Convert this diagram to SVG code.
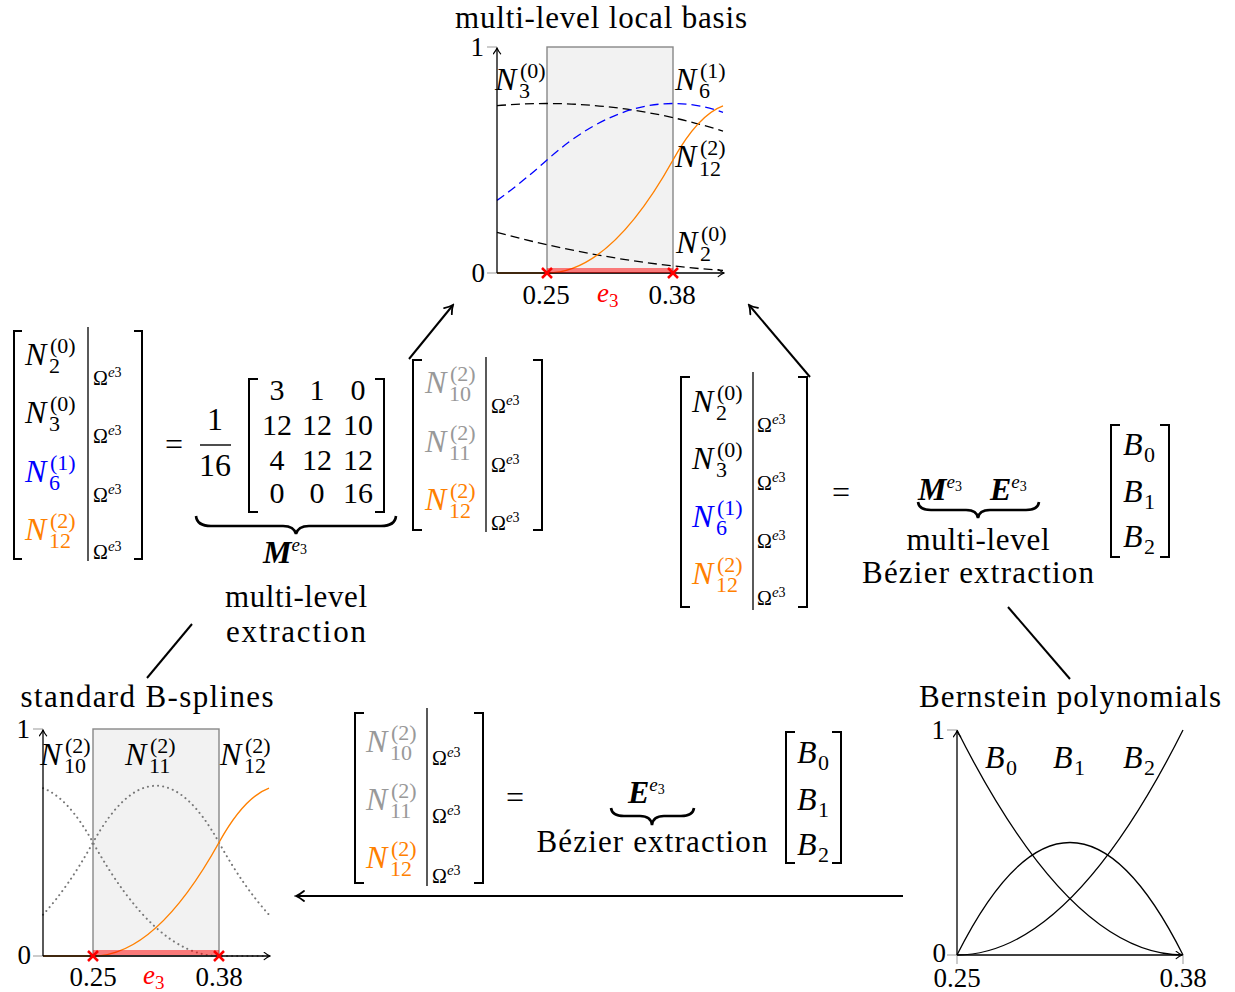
<svg xmlns="http://www.w3.org/2000/svg" width="1235" height="992" viewBox="0 0 1235 992">
<style>
text{font-family:"Liberation Serif","DejaVu Serif",serif;fill:#000}
.tt{font-size:31px}
.tk{font-size:27px}
.m{font-size:32px}
.i{font-style:italic}
.s{font-size:22px;font-style:normal}
.bi{font-style:italic;font-weight:bold;font-size:32px}
.o{font-size:20px}
.oe{font-size:15px;font-style:italic}
.o3{font-size:14px}
.gray{fill:#999}
.blue{fill:#0000ff}
.orange{fill:#ff8000}
.red{fill:#ff0000}
.br{fill:none;stroke:#000;stroke-width:2}
.bar{stroke:#000;stroke-width:1.3}
.ax{fill:none;stroke:#000;stroke-width:1.3}
.tick{stroke:#999;stroke-width:1}
.shade{fill:#f2f2f2;stroke:#888;stroke-width:1.4}
.dash{fill:none;stroke:#000;stroke-width:1.3;stroke-dasharray:9 5}
.dashb{fill:none;stroke:#0000ff;stroke-width:1.3;stroke-dasharray:9 5}
.org{fill:none;stroke:#ff8000;stroke-width:1.4}
.dot{fill:none;stroke:#777;stroke-width:2;stroke-dasharray:0.1 5;stroke-linecap:round}
.rbar{stroke:#ff0000;stroke-opacity:0.5;stroke-width:5}
.x{stroke:#ff0000;stroke-width:2.5}
.brace{fill:none;stroke:#000;stroke-width:2.6}
.con{fill:none;stroke:#000;stroke-width:2}
.crv{fill:none;stroke:#000;stroke-width:1.3}
</style>
<defs>
<marker id="arr" viewBox="-9 -6 11 12" refX="0" refY="0" markerWidth="11" markerHeight="12" orient="auto" markerUnits="userSpaceOnUse">
<path d="M -8,-5 C -5,-2.5 -1.5,-0.6 0,0 C -1.5,0.6 -5,2.5 -8,5" fill="none" stroke="#000" stroke-width="1.8" stroke-linecap="round"/>
</marker>
<marker id="arrs" viewBox="-9 -6 11 12" refX="0" refY="0" markerWidth="8" markerHeight="9" orient="auto" markerUnits="userSpaceOnUse">
<path d="M -8,-5 C -5,-2.5 -1.5,-0.6 0,0 C -1.5,0.6 -5,2.5 -8,5" fill="none" stroke="#000" stroke-width="1.6" stroke-linecap="round"/>
</marker>
</defs>
<rect width="1235" height="992" fill="#fff"/>

<!-- Top plot: multi-level local basis -->
<g id="plot-multilevel">
<text class="tt" x="601" y="28" text-anchor="middle" textLength="292">multi-level local basis</text>
<rect class="shade" x="547" y="47" width="126" height="226"/>
<path class="dash" d="M497,105.7 Q610,95.7 723,131.1"/>
<path class="dashb" d="M497,200.4 Q522,182.4 547,160 Q635,81.1 723,112.4"/>
<path class="dash" d="M497,232.4 Q610,262.8 723,270.4"/>
<path class="org" d="M497,273 L547,273 Q610,273 673,160 Q698,115.1 723,105.9"/>
<line class="tick" x1="487" y1="47" x2="497" y2="47"/>
<line class="tick" x1="487" y1="273" x2="497" y2="273"/>
<line class="ax" x1="497" y1="273" x2="497" y2="48" marker-end="url(#arrs)"/>
<line class="ax" x1="497" y1="273" x2="724" y2="273" marker-end="url(#arrs)"/>
<line class="rbar" x1="547" y1="270.5" x2="673" y2="270.5"/>
<path class="x" d="M542,268 L552,278 M552,268 L542,278 M668,268 L678,278 M678,268 L668,278"/>
<text class="tk" x="484" y="56" text-anchor="end">1</text>
<text class="tk" x="485" y="282" text-anchor="end">0</text>
<text class="tk" x="546" y="304" text-anchor="middle">0.25</text>
<text class="tk red" x="597" y="302"><tspan class="i">e</tspan><tspan font-size="19" dy="5">3</tspan></text>
<text class="tk" x="672" y="304" text-anchor="middle">0.38</text>
<text class="m" x="495" y="90"><tspan class="i">N</tspan><tspan class="s" x="520" y="78">(0)</tspan><tspan class="s" x="519" y="98">3</tspan></text>
<text class="m" x="675" y="90"><tspan class="i">N</tspan><tspan class="s" x="700" y="78">(1)</tspan><tspan class="s" x="699" y="98">6</tspan></text>
<text class="m" x="675" y="167"><tspan class="i">N</tspan><tspan class="s" x="700" y="155">(2)</tspan><tspan class="s" x="699" y="176">12</tspan></text>
<text class="m" x="676" y="253"><tspan class="i">N</tspan><tspan class="s" x="701" y="241">(0)</tspan><tspan class="s" x="700" y="261">2</tspan></text>
</g>

<!-- Left equation: multi-level extraction -->
<g id="eq-multilevel">
<path class="br" d="M22,331 H14 V559 H22"/>
<path class="br" d="M134,331 H142 V559 H134"/>
<line class="bar" x1="88" y1="327" x2="88" y2="561"/>
<text class="m" x="25" y="365"><tspan class="i">N</tspan><tspan class="s" x="50" y="353">(0)</tspan><tspan class="s" x="49" y="373">2</tspan></text>
<text class="m" x="25" y="423"><tspan class="i">N</tspan><tspan class="s" x="50" y="411">(0)</tspan><tspan class="s" x="49" y="431">3</tspan></text>
<text class="m blue" x="25" y="482"><tspan class="i">N</tspan><tspan class="s" x="50" y="470">(1)</tspan><tspan class="s" x="49" y="490">6</tspan></text>
<text class="m orange" x="25" y="540"><tspan class="i">N</tspan><tspan class="s" x="50" y="528">(2)</tspan><tspan class="s" x="49" y="548">12</tspan></text>
<text class="o" x="93" y="385">Ω<tspan class="oe" dy="-8">e</tspan><tspan class="o3">3</tspan></text>
<text class="o" x="93" y="443">Ω<tspan class="oe" dy="-8">e</tspan><tspan class="o3">3</tspan></text>
<text class="o" x="93" y="502">Ω<tspan class="oe" dy="-8">e</tspan><tspan class="o3">3</tspan></text>
<text class="o" x="93" y="559">Ω<tspan class="oe" dy="-8">e</tspan><tspan class="o3">3</tspan></text>
<text class="m" x="174" y="455" text-anchor="middle" font-size="36">=</text>
<text class="m" x="215" y="430" text-anchor="middle" font-size="30">1</text>
<line x1="200" y1="445" x2="231" y2="445" stroke="#000" stroke-width="1.4"/>
<text class="m" x="215" y="476" text-anchor="middle" font-size="30">16</text>
<path class="br" d="M258,379 H249 V512 H258"/>
<path class="br" d="M375,379 H384 V512 H375"/>
<g font-size="30" text-anchor="middle">
<text x="277" y="400">3</text><text x="317" y="400">1</text><text x="358" y="400">0</text>
<text x="277" y="435">12</text><text x="317" y="435">12</text><text x="358" y="435">10</text>
<text x="277" y="470">4</text><text x="317" y="470">12</text><text x="358" y="470">12</text>
<text x="277" y="503">0</text><text x="317" y="503">0</text><text x="358" y="503">16</text>
</g>
<path class="brace" d="M196,516 Q197,526 211,526 L283,526 Q294,526 296,534 Q298,526 309,526 L381,526 Q395,526 396,516"/>
<text class="bi" x="263" y="563">M<tspan font-size="19" font-weight="normal" dy="-12">e</tspan><tspan font-size="14" font-weight="normal" font-style="normal" dy="3">3</tspan></text>
<text class="tt" x="296" y="607" text-anchor="middle" textLength="142">multi-level</text>
<text class="tt" x="296" y="642" text-anchor="middle" textLength="140">extraction</text>
<path class="br" d="M422,360 H413 V530 H422"/>
<path class="br" d="M533,360 H542 V530 H533"/>
<line class="bar" x1="486" y1="357" x2="486" y2="532"/>
<text class="m gray" x="425" y="393"><tspan class="i">N</tspan><tspan class="s" x="450" y="381">(2)</tspan><tspan class="s" x="449" y="401">10</tspan></text>
<text class="m gray" x="425" y="452"><tspan class="i">N</tspan><tspan class="s" x="450" y="440">(2)</tspan><tspan class="s" x="449" y="460">11</tspan></text>
<text class="m orange" x="425" y="510"><tspan class="i">N</tspan><tspan class="s" x="450" y="498">(2)</tspan><tspan class="s" x="449" y="518">12</tspan></text>
<text class="o" x="491" y="413">Ω<tspan class="oe" dy="-8">e</tspan><tspan class="o3">3</tspan></text>
<text class="o" x="491" y="472">Ω<tspan class="oe" dy="-8">e</tspan><tspan class="o3">3</tspan></text>
<text class="o" x="491" y="530">Ω<tspan class="oe" dy="-8">e</tspan><tspan class="o3">3</tspan></text>
</g>

<!-- Right equation: multi-level Bezier extraction -->
<g id="eq-combined">
<path class="br" d="M690,377 H681 V607 H690"/>
<path class="br" d="M798,377 H807 V607 H798"/>
<line class="bar" x1="753" y1="372" x2="753" y2="610"/>
<text class="m" x="692" y="412"><tspan class="i">N</tspan><tspan class="s" x="717" y="400">(0)</tspan><tspan class="s" x="716" y="420">2</tspan></text>
<text class="m" x="692" y="469"><tspan class="i">N</tspan><tspan class="s" x="717" y="457">(0)</tspan><tspan class="s" x="716" y="477">3</tspan></text>
<text class="m blue" x="692" y="527"><tspan class="i">N</tspan><tspan class="s" x="717" y="515">(1)</tspan><tspan class="s" x="716" y="535">6</tspan></text>
<text class="m orange" x="692" y="584"><tspan class="i">N</tspan><tspan class="s" x="717" y="572">(2)</tspan><tspan class="s" x="716" y="592">12</tspan></text>
<text class="o" x="757" y="432">Ω<tspan class="oe" dy="-8">e</tspan><tspan class="o3">3</tspan></text>
<text class="o" x="757" y="490">Ω<tspan class="oe" dy="-8">e</tspan><tspan class="o3">3</tspan></text>
<text class="o" x="757" y="548">Ω<tspan class="oe" dy="-8">e</tspan><tspan class="o3">3</tspan></text>
<text class="o" x="757" y="605">Ω<tspan class="oe" dy="-8">e</tspan><tspan class="o3">3</tspan></text>
<text class="m" x="841" y="503" text-anchor="middle" font-size="36">=</text>
<text class="bi" x="918" y="500">M<tspan font-size="19" font-weight="normal" dy="-12">e</tspan><tspan font-size="14" font-weight="normal" font-style="normal" dy="3">3</tspan></text>
<text class="bi" x="990" y="500">E<tspan font-size="19" font-weight="normal" dy="-12">e</tspan><tspan font-size="14" font-weight="normal" font-style="normal" dy="3">3</tspan></text>
<path class="brace" d="M918,502 Q919,510 931,510 L966,510 Q977,510 978,518 Q979,510 990,510 L1026,510 Q1038,510 1039,502"/>
<text class="tt" x="978" y="550" text-anchor="middle" textLength="143">multi-level</text>
<text class="tt" x="978" y="583" text-anchor="middle" textLength="232">Bézier extraction</text>
<path class="br" d="M1120,425 H1111 V557 H1120"/>
<path class="br" d="M1160,425 H1169 V557 H1160"/>
<text class="m" x="1123" y="455"><tspan class="i">B</tspan><tspan class="s" x="1144" y="462">0</tspan></text>
<text class="m" x="1123" y="502"><tspan class="i">B</tspan><tspan class="s" x="1144" y="509">1</tspan></text>
<text class="m" x="1123" y="547"><tspan class="i">B</tspan><tspan class="s" x="1144" y="554">2</tspan></text>
</g>

<!-- Bottom-left plot: standard B-splines -->
<g id="plot-bsplines">
<text class="tt" x="147" y="707" text-anchor="middle" textLength="253">standard B-splines</text>
<rect class="shade" x="93" y="729" width="126" height="227"/>
<path class="dot" d="M43,788.2 Q68,797.4 93,842.5 Q156,956 219,956 L269,956"/>
<path class="dot" d="M43,914.7 Q68,887.6 93,842.5 Q156,729 219,842.5 Q244,887.6 269,914.7"/>
<path class="org" d="M43,956 L93,956 Q156,956 219,842.5 Q244,797.4 269,788.2"/>
<line class="tick" x1="33" y1="729" x2="43" y2="729"/>
<line class="tick" x1="33" y1="956" x2="43" y2="956"/>
<line class="ax" x1="43" y1="956" x2="43" y2="730" marker-end="url(#arrs)"/>
<line class="ax" x1="43" y1="956" x2="270" y2="956" marker-end="url(#arrs)"/>
<line class="rbar" x1="93" y1="952.5" x2="219" y2="952.5"/>
<path class="x" d="M88,951 L98,961 M98,951 L88,961 M214,951 L224,961 M224,951 L214,961"/>
<text class="tk" x="30" y="738" text-anchor="end">1</text>
<text class="tk" x="31" y="964" text-anchor="end">0</text>
<text class="tk" x="93" y="986" text-anchor="middle">0.25</text>
<text class="tk red" x="143" y="984"><tspan class="i">e</tspan><tspan font-size="19" dy="5">3</tspan></text>
<text class="tk" x="219" y="986" text-anchor="middle">0.38</text>
<text class="m" x="40" y="765"><tspan class="i">N</tspan><tspan class="s" x="65" y="753">(2)</tspan><tspan class="s" x="64" y="773">10</tspan></text>
<text class="m" x="125" y="765"><tspan class="i">N</tspan><tspan class="s" x="150" y="753">(2)</tspan><tspan class="s" x="149" y="773">11</tspan></text>
<text class="m" x="220" y="765"><tspan class="i">N</tspan><tspan class="s" x="245" y="753">(2)</tspan><tspan class="s" x="244" y="773">12</tspan></text>
</g>

<!-- Bottom equation: Bezier extraction -->
<g id="eq-bezier">
<path class="br" d="M364,713 H355 V883 H364"/>
<path class="br" d="M474,713 H483 V883 H474"/>
<line class="bar" x1="427" y1="708" x2="427" y2="886"/>
<text class="m gray" x="366" y="752"><tspan class="i">N</tspan><tspan class="s" x="391" y="740">(2)</tspan><tspan class="s" x="390" y="760">10</tspan></text>
<text class="m gray" x="366" y="810"><tspan class="i">N</tspan><tspan class="s" x="391" y="798">(2)</tspan><tspan class="s" x="390" y="818">11</tspan></text>
<text class="m orange" x="366" y="868"><tspan class="i">N</tspan><tspan class="s" x="391" y="856">(2)</tspan><tspan class="s" x="390" y="876">12</tspan></text>
<text class="o" x="432" y="765">Ω<tspan class="oe" dy="-8">e</tspan><tspan class="o3">3</tspan></text>
<text class="o" x="432" y="823">Ω<tspan class="oe" dy="-8">e</tspan><tspan class="o3">3</tspan></text>
<text class="o" x="432" y="883">Ω<tspan class="oe" dy="-8">e</tspan><tspan class="o3">3</tspan></text>
<text class="m" x="515" y="808" text-anchor="middle" font-size="36">=</text>
<text class="bi" x="628" y="803">E<tspan font-size="19" font-weight="normal" dy="-12">e</tspan><tspan font-size="14" font-weight="normal" font-style="normal" dy="3">3</tspan></text>
<path class="brace" d="M611,808 Q612,816 624,816 L640,816 Q651,816 652,825 Q653,816 664,816 L681,816 Q693,816 694,808"/>
<text class="tt" x="652" y="852" text-anchor="middle" textLength="231">Bézier extraction</text>
<path class="br" d="M795,732 H786 V863 H795"/>
<path class="br" d="M832,732 H841 V863 H832"/>
<text class="m" x="797" y="763"><tspan class="i">B</tspan><tspan class="s" x="818" y="770">0</tspan></text>
<text class="m" x="797" y="810"><tspan class="i">B</tspan><tspan class="s" x="818" y="817">1</tspan></text>
<text class="m" x="797" y="855"><tspan class="i">B</tspan><tspan class="s" x="818" y="862">2</tspan></text>
</g>

<!-- Bottom-right plot: Bernstein polynomials -->
<g id="plot-bernstein">
<text class="tt" x="1070" y="707" text-anchor="middle" textLength="302">Bernstein polynomials</text>
<path class="crv" d="M957,730 Q1070,955 1183,955"/>
<path class="crv" d="M957,955 Q1070,730 1183,955"/>
<path class="crv" d="M957,955 Q1070,955 1183,730"/>
<line class="tick" x1="947" y1="730" x2="957" y2="730"/>
<line class="tick" x1="947" y1="955" x2="957" y2="955"/>
<line class="tick" x1="957" y1="955" x2="957" y2="964"/>
<line class="tick" x1="1183" y1="955" x2="1183" y2="964"/>
<line class="ax" x1="957" y1="955" x2="957" y2="731" marker-end="url(#arrs)"/>
<line class="ax" x1="957" y1="955" x2="1182" y2="955" marker-end="url(#arrs)"/>
<text class="tk" x="945" y="739" text-anchor="end">1</text>
<text class="tk" x="946" y="962" text-anchor="end">0</text>
<text class="tk" x="957" y="987" text-anchor="middle">0.25</text>
<text class="tk" x="1183" y="987" text-anchor="middle">0.38</text>
<text class="m" x="985" y="768"><tspan class="i">B</tspan><tspan class="s" x="1006" y="775">0</tspan></text>
<text class="m" x="1053" y="768"><tspan class="i">B</tspan><tspan class="s" x="1074" y="775">1</tspan></text>
<text class="m" x="1123" y="768"><tspan class="i">B</tspan><tspan class="s" x="1144" y="775">2</tspan></text>
</g>

<!-- Connectors -->
<g id="connectors">
<line class="con" x1="409" y1="359" x2="453" y2="305" marker-end="url(#arr)"/>
<line class="con" x1="810" y1="377" x2="749" y2="305" marker-end="url(#arr)"/>
<line class="con" x1="192" y1="624" x2="147" y2="678"/>
<line class="con" x1="1008" y1="607" x2="1070" y2="679"/>
<line class="con" x1="903" y1="896" x2="296" y2="896" marker-end="url(#arr)"/>
</g>
</svg>
